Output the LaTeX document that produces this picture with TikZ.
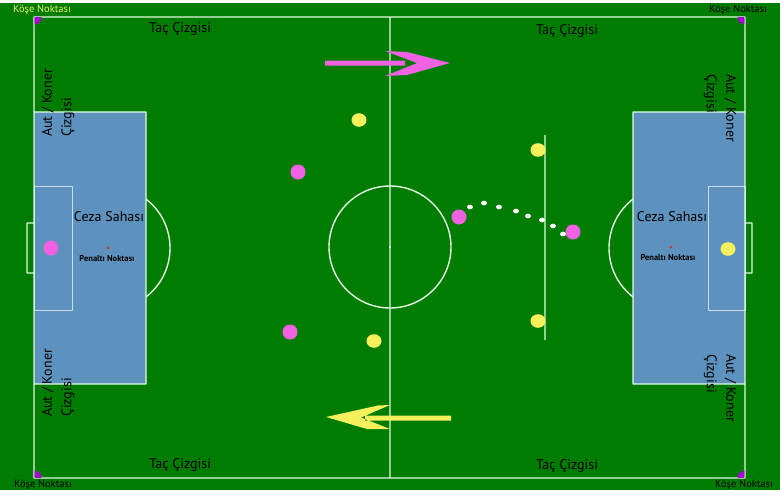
\documentclass[tikz,border=0pt]{standalone}
\usepackage{fontspec}
\setmainfont{PT Sans}
\definecolor{pitchgreen}{RGB}{0,124,0}
\definecolor{boxblue}{RGB}{94,146,190}
\definecolor{linewhite}{RGB}{225,250,225}
\definecolor{goalline}{RGB}{200,222,240}
\definecolor{teamA}{RGB}{240,98,226}
\definecolor{teamB}{RGB}{246,240,92}
\definecolor{cornerviolet}{RGB}{170,0,215}
\definecolor{spotred}{RGB}{205,60,70}
\definecolor{labelyellow}{RGB}{240,240,110}
\begin{document}
\begin{tikzpicture}[x=1pt,y=-1pt,line join=round,
	pline/.style={draw=linewhite,line width=1.4pt},
	gline/.style={draw=goalline,line width=0.8pt},
	big/.style={font=\fontsize{14}{19.5}\selectfont},
	small/.style={font=\fontsize{10.5}{12}\selectfont},
	tiny/.style={font=\fontsize{8.5}{10}\selectfont\bfseries}]
			\useasboundingbox (0,0) rectangle (780,496);
			\fill[white] (0,0) rectangle (780,496);
			\fill[pitchgreen] (0,3) rectangle (780,490);
			\draw[pline]
			(108,248) circle (62)
			(671,248) circle (62)
			;
			\fill[boxblue]
			(34,112) rectangle (146,384)
			(633,112) rectangle (745,384)
			;
			\draw[gline]
			(34,186) rectangle (72,310)
			(708,186) rectangle (745,310)
			;
			\draw[pline]
			(34,17) rectangle (745,478)
			(390,17)--(390,478)
			(390,247) circle (61)
			(34,112) rectangle (146,384)
			(633,112) rectangle (745,384)
			(27,223) rectangle (34,273)
			(745,223) rectangle (752,273)
			(545,135)--(545,340)
			;
			\fill[white] (390,247) circle (1);
			\fill[spotred]
			(108,248) circle (1.6)
			(671,247) circle (1.6)
			;
			\begin{scope}
			\clip (34.7,17.7) rectangle (744.3,477.3);
			\fill[cornerviolet]
			(34,17) circle (7.5)
			(745,17) circle (7.5)
			(34,478) circle (7.5)
			(745,478) circle (7.5)
			;
			\end{scope}
			\fill[teamA]
			(51,248) ellipse (7.5 and 7.5)
			(298,172) ellipse (7.5 and 7.5)
			(290,332) ellipse (7.5 and 7.5)
			(459,217) ellipse (7.5 and 7.5)
			(573,232) ellipse (7.5 and 7.5)
			;
			\fill[teamB]
			(359,120) ellipse (7.5 and 6.8)
			(374,341) ellipse (7.5 and 6.8)
			(538,150) ellipse (7.5 and 6.8)
			(538,321) ellipse (7.5 and 6.8)
			(728,249) ellipse (7.5 and 6.8)
			;
			\foreach \dx/\dy in {470/207,484/203,499/207,516/211,528/216,542/220,553/226,563/234}
			\fill[white] (\dx,\dy) ellipse (3 and 2.4);
			\fill[teamA]
			(325,60.5) rectangle (405,65.5)
			(385,51)--(407,52)--(450,63)--(407,75)--(385,76)--(417,63)--cycle
			;
			\fill[teamB]
			(451,415.5) rectangle (365,420.5)
			(390,405)--(378,405.5)--(326,417)--(367,429)--(390,429)--(361,417.5)--cycle
			;
			\node[big] (tacTL) at (180,29) {Taç Çizgisi};
			\node[big] (tacTR) at (567,31) {Taç Çizgisi};
			\node[big] (tacBL) at (180,465) {Taç Çizgisi};
			\node[big] (tacBR) at (567,466) {Taç Çizgisi};
			\node[small,text=labelyellow] (koseTL) at (42,10) {Köşe Noktası};
			\node[small] (koseTR) at (738,10) {Köşe Noktası};
			\node[small] (koseBL) at (43,485) {Köşe Noktası};
			\node[small] (koseBR) at (744,485) {Köşe Noktası};
			\node[big] (cezaL) at (109,217) {Ceza Sahası};
			\node[big] (cezaR) at (672,217) {Ceza Sahası};
			\node[tiny] (penL) at (107,259) {Penaltı Noktası};
			\node[tiny] (penR) at (668,258) {Penaltı Noktası};
			\node[big,rotate=90,align=left] (autTL) at (58,103) {Aut / Koner\\Çizgisi};
			\node[big,rotate=90,align=left] (autBL) at (58,383) {Aut / Koner\\Çizgisi};
			\node[big,rotate=-90,align=left] (autTR) at (720,108) {Aut / Koner\\Çizgisi};
			\node[big,rotate=-90,align=left] (autBR) at (720,388) {Aut / Koner\\Çizgisi};
		\end{tikzpicture}
\end{document}
